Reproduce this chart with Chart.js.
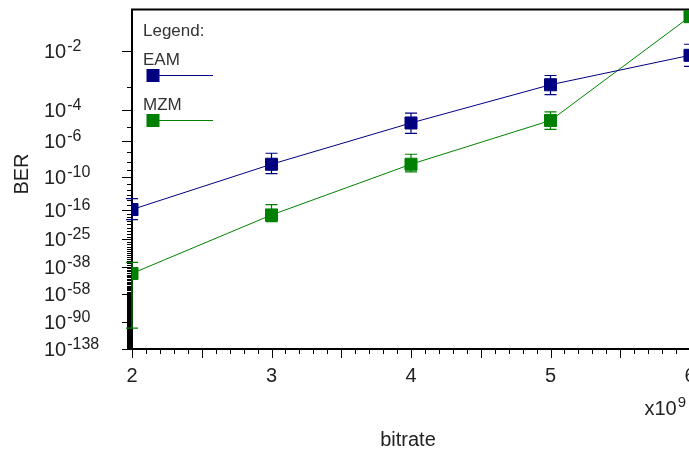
<!DOCTYPE html>
<html>
<head>
<meta charset="utf-8">
<title>BER vs bitrate</title>
<script src="https://cdn.jsdelivr.net/npm/chart.js@4/dist/chart.umd.min.js"></script>
<style>
  html, body { margin: 0; padding: 0; background: #fff; overflow: hidden; }
  #wrap { width: 689px; height: 449px; overflow: hidden; }
</style>
</head>
<body>
<div id="wrap"><canvas id="ber-chart" width="700" height="449"></canvas></div>
<script>
// bitrate, in units of 1e9
const bitrate = [2, 3, 4, 5, 6];
const bitrateTicks = [2, 3, 4, 5, 6];

const eamBer     = [1e-16,   5.1e-9,  1.9e-5,  1.2e-3, 8.2e-3];
const eamBerHigh = [2.3e-14, 7.8e-8,  7.0e-5,  2.4e-3, 1.4e-2];
const eamBerLow  = [2.5e-19, 3.4e-10, 3.8e-6,  5.1e-4, 4.4e-3];

const mzmBer     = [5e-43,   4.5e-18, 5.1e-9,  2.7e-5, 3.9e-2];
const mzmBerHigh = [2e-36,   1.3e-15, 6.2e-8,  8.2e-5, null];
const mzmBerLow  = [5e-100,  6.7e-20, 5.7e-10, 7.3e-6, null];

// labelled BER ticks, as -log10(BER)
const berTickExps = [2, 4, 6, 10, 16, 25, 38, 58, 90, 138];
const berTop = 0.048;
const berBottom = 1e-138;

const FONT = '"Liberation Sans", Arial, sans-serif';
const TEXT = '#222';

// ln(erfc(x)) for x >= 0, Chebyshev fit (Numerical Recipes erfcc)
function logErfc(x) {
  const t = 1 / (1 + 0.5 * x);
  const p = -x * x - 1.26551223 + t * (1.00002368 + t * (0.37409196 + t * (0.09678418 +
    t * (-0.18628806 + t * (0.27886807 + t * (-1.13520398 + t * (1.48851587 +
    t * (-0.82215223 + t * 0.17087277))))))));
  return Math.log(t) + p;
}

// Q factor for a given BER: 0.5 * erfc(Q / sqrt2) = ber
function qFactor(ber) {
  const target = Math.log(2 * ber);
  let lo = 0, hi = 40;
  for (let i = 0; i < 80; i++) {
    const mid = (lo + hi) / 2;
    if (logErfc(mid / Math.SQRT2) > target) lo = mid; else hi = mid;
  }
  return (lo + hi) / 2;
}

const toPoints = bers => bitrate.map((x, i) => ({ x, y: qFactor(bers[i]) }));

const errorBars = [
  { color: '#000080', high: eamBerHigh, low: eamBerLow },
  { color: '#008000', high: mzmBerHigh, low: mzmBerLow }
];

// frame, tick marks and tick labels
const axesPlugin = {
  id: 'berAxes',
  beforeDatasetsDraw(chart) {
    const { ctx, chartArea: a, scales: { x, y } } = chart;
    ctx.save();
    ctx.strokeStyle = '#000';
    ctx.lineWidth = 1;
    ctx.beginPath();
    for (let e = 2; e <= 138; e++) {
      const py = Math.round(y.getPixelForValue(qFactor(Math.pow(10, -e)))) + 0.5;
      const len = berTickExps.includes(e) ? 10 : 5;
      ctx.moveTo(a.left - len, py);
      ctx.lineTo(a.left, py);
    }
    for (let k = 20; k <= 60; k++) {
      const px = Math.round(x.getPixelForValue(k / 10)) + 0.5;
      const len = k % 5 === 0 ? 9 : 5;
      ctx.moveTo(px, a.bottom);
      ctx.lineTo(px, a.bottom + len);
    }
    ctx.stroke();

    ctx.lineWidth = 2;
    ctx.beginPath();
    ctx.moveTo(a.right + 20, a.top);
    ctx.lineTo(a.left, a.top);
    ctx.lineTo(a.left, a.bottom);
    ctx.lineTo(a.right + 20, a.bottom);
    ctx.stroke();

    ctx.fillStyle = TEXT;
    ctx.textBaseline = 'alphabetic';
    ctx.textAlign = 'left';
    berTickExps.forEach(e => {
      const py = y.getPixelForValue(qFactor(Math.pow(10, -e)));
      ctx.font = '20px ' + FONT;
      ctx.fillText('10', 44, py + 7);
      const w = ctx.measureText('10').width;
      ctx.font = '16px ' + FONT;
      ctx.fillText('-' + e, 44 + w + 1, py);
    });

    ctx.font = '20px ' + FONT;
    ctx.textAlign = 'center';
    bitrateTicks.forEach(v => {
      ctx.fillText(String(v), x.getPixelForValue(v), a.bottom + 33);
    });

    ctx.textAlign = 'left';
    ctx.fillText('x10', a.right - 45.5, a.bottom + 66);
    const xw = ctx.measureText('x10').width;
    ctx.font = '15px ' + FONT;
    ctx.fillText('9', a.right - 45.5 + xw + 1, a.bottom + 57.5);

    ctx.font = '20px ' + FONT;
    ctx.textAlign = 'center';
    ctx.fillText('bitrate', 408, 446);
    ctx.translate(28, 174);
    ctx.rotate(-Math.PI / 2);
    ctx.fillText('BER', 0, 0);
    ctx.restore();
  }
};

// vertical error bars with caps, drawn under the markers
const errorBarPlugin = {
  id: 'berErrorBars',
  beforeDatasetsDraw(chart) {
    const { ctx, scales: { x, y } } = chart;
    ctx.save();
    ctx.lineWidth = 1.2;
    errorBars.forEach(bar => {
      ctx.strokeStyle = bar.color;
      ctx.beginPath();
      bitrate.forEach((v, i) => {
        if (bar.high[i] == null) return;
        const px = x.getPixelForValue(v);
        const top = y.getPixelForValue(qFactor(bar.high[i]));
        const bot = y.getPixelForValue(qFactor(bar.low[i]));
        ctx.moveTo(px, top); ctx.lineTo(px, bot);
        ctx.moveTo(px - 6, top); ctx.lineTo(px + 6, top);
        ctx.moveTo(px - 6, bot); ctx.lineTo(px + 6, bot);
      });
      ctx.stroke();
    });
    ctx.restore();
  }
};

// legend box in the upper left of the plot
const legendPlugin = {
  id: 'berLegend',
  afterDatasetsDraw(chart) {
    const { ctx, chartArea: a } = chart;
    const lx = a.left + 11;
    ctx.save();
    ctx.fillStyle = '#333';
    ctx.font = '17px ' + FONT;
    ctx.textAlign = 'left';
    ctx.textBaseline = 'alphabetic';
    ctx.fillText('Legend:', lx, a.top + 26.5);
    chart.data.datasets.forEach((ds, i) => {
      const ty = a.top + 55 + i * 45.5;
      const my = a.top + 65.5 + i * 45;
      ctx.fillStyle = '#333';
      ctx.fillText(ds.label, lx, ty);
      ctx.strokeStyle = ds.borderColor;
      ctx.lineWidth = 1;
      ctx.beginPath();
      ctx.moveTo(lx + 14, my + 0.5);
      ctx.lineTo(lx + 70, my + 0.5);
      ctx.stroke();
      ctx.fillStyle = ds.backgroundColor;
      ctx.fillRect(lx + 3.5, my - 6, 13, 13);
    });
    ctx.restore();
  }
};

new Chart(document.getElementById('ber-chart'), {
  type: 'line',
  data: {
    datasets: [
      {
        label: 'EAM',
        data: toPoints(eamBer),
        borderColor: '#000080',
        backgroundColor: '#000080',
        borderWidth: 1,
        pointStyle: 'rect',
        pointRadius: 8.5,
        pointBorderWidth: 1,
        tension: 0
      },
      {
        label: 'MZM',
        data: toPoints(mzmBer),
        borderColor: '#008000',
        backgroundColor: '#008000',
        borderWidth: 1,
        pointStyle: 'rect',
        pointRadius: 8.5,
        pointBorderWidth: 1,
        tension: 0
      }
    ]
  },
  options: {
    responsive: false,
    animation: false,
    devicePixelRatio: 1,
    layout: { padding: { left: 132, top: 8, right: 10, bottom: 100 } },
    plugins: { legend: { display: false }, tooltip: { enabled: false } },
    scales: {
      x: { type: 'linear', display: false, min: 2, max: 6 },
      y: {
        type: 'logarithmic',
        display: false,
        reverse: true,
        min: qFactor(berTop),
        max: qFactor(berBottom)
      }
    }
  },
  plugins: [axesPlugin, errorBarPlugin, legendPlugin]
});
</script>
</body>
</html>
